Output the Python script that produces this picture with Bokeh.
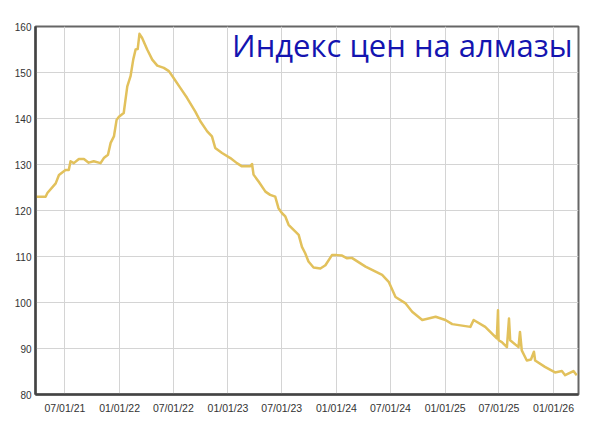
import pandas as pd
from bokeh.plotting import figure
from bokeh.models import FixedTicker, Range1d, Label, ColumnDataSource
from bokeh.embed import file_html
from bokeh.resources import INLINE

title_text = "Индекс цен на алмазы"

dates = [
    "2021-03-24", "2021-04-27", "2021-05-03", "2021-05-31", "2021-06-11", "2021-07-03",
    "2021-07-14", "2021-07-20", "2021-07-31", "2021-08-17", "2021-09-03", "2021-09-19",
    "2021-10-06", "2021-10-29", "2021-11-09", "2021-11-23", "2021-12-02", "2021-12-13",
    "2021-12-22", "2021-12-30", "2022-01-15", "2022-01-21", "2022-01-27", "2022-02-07",
    "2022-02-16", "2022-02-24", "2022-03-03", "2022-03-09", "2022-03-18", "2022-04-04",
    "2022-04-21", "2022-05-08", "2022-05-30", "2022-06-16", "2022-07-02", "2022-07-25",
    "2022-08-16", "2022-09-13", "2022-09-30", "2022-10-23", "2022-11-08", "2022-11-19",
    "2022-12-12", "2023-01-09", "2023-01-31", "2023-02-17", "2023-03-17", "2023-03-23",
    "2023-03-28", "2023-04-14", "2023-05-07", "2023-05-23", "2023-06-09", "2023-06-20",
    "2023-07-02", "2023-07-13", "2023-07-24", "2023-08-10", "2023-08-27", "2023-09-07",
    "2023-09-18", "2023-09-29", "2023-10-16", "2023-11-08", "2023-11-25", "2023-12-17",
    "2024-01-03", "2024-01-20", "2024-02-06", "2024-02-22", "2024-04-08", "2024-06-03",
    "2024-06-25", "2024-07-18", "2024-08-21", "2024-09-12", "2024-10-16", "2024-11-30",
    "2025-01-02", "2025-01-25", "2025-03-27", "2025-04-07", "2025-05-16", "2025-06-24",
    "2025-06-28", "2025-06-30", "2025-07-11", "2025-07-28", "2025-08-04", "2025-08-08",
    "2025-09-05", "2025-09-10", "2025-09-16", "2025-10-03", "2025-10-17", "2025-10-27",
    "2025-10-31", "2025-12-03", "2026-01-06", "2026-01-29", "2026-02-09", "2026-03-09",
    "2026-03-20",
]
values = [
    123.0, 123.0, 123.8, 125.9, 127.7, 128.8,
    128.8, 130.7, 130.3, 131.2, 131.2, 130.4,
    130.7, 130.3, 131.4, 132.1, 134.7, 136.1,
    139.7, 140.4, 141.2, 144.1, 147.0, 149.2,
    152.8, 155.0, 155.1, 158.4, 157.5, 155.0,
    152.8, 151.5, 151.0, 150.3, 148.8, 146.6,
    144.5, 141.5, 139.4, 137.2, 136.1, 133.6,
    132.5, 131.4, 130.3, 129.6, 129.6, 130.1,
    127.8, 126.3, 124.1, 123.4, 123.0, 120.5,
    119.4, 118.7, 116.9, 115.8, 114.7, 112.1,
    110.7, 108.9, 107.6, 107.4, 108.1, 110.3,
    110.3, 110.2, 109.6, 109.7, 107.8, 106.0,
    104.5, 101.2, 99.8, 98.0, 96.2, 96.9,
    96.2, 95.3, 94.7, 96.2, 94.7, 92.2,
    98.3, 91.8, 91.4, 90.3, 96.5, 91.8,
    90.3, 93.6, 89.6, 87.4, 87.6, 89.3,
    87.4, 86.0, 84.8, 85.1, 84.2, 85.1,
    84.2,
]

x_start, x_end = "2021-03-24", "2026-03-26"
y_start, y_end = 80, 160
y_ticks = [80, 90, 100, 110, 120, 130, 140, 150, 160]
tick_dates = ["2021-07-01", "2022-01-01", "2022-07-01", "2023-01-01", "2023-07-01",
              "2024-01-01", "2024-07-01", "2025-01-01", "2025-07-01", "2026-01-01"]
tick_labels = ["07/01/21", "01/01/22", "07/01/22", "01/01/23", "07/01/23",
               "01/01/24", "07/01/24", "01/01/25", "07/01/25", "01/01/26"]


def ms(s):
    return pd.Timestamp(s).value / 1e6


src = ColumnDataSource(data=dict(date=pd.to_datetime(dates), value=values))

p = figure(width=602, height=421, x_axis_type="datetime",
           output_backend="svg", toolbar_location=None,
           x_range=Range1d(ms(x_start), ms(x_end)),
           y_range=Range1d(y_start, y_end),
           min_border_left=35, min_border_right=24,
           min_border_top=26, min_border_bottom=27)

p.background_fill_color = "white"
p.border_fill_color = "white"
p.outline_line_color = "#666666"
p.outline_line_width = 2

tick_ms = [ms(d) for d in tick_dates]
p.xaxis.ticker = FixedTicker(ticks=tick_ms)
p.xaxis.major_label_overrides = {t: lab for t, lab in zip(tick_ms, tick_labels)}
p.yaxis.ticker = FixedTicker(ticks=y_ticks)

for ax in (p.xaxis[0], p.yaxis[0]):
    ax.axis_line_color = "#444444"
    ax.axis_line_width = 2.5
    ax.major_tick_in = 0
    ax.major_tick_out = 0
    ax.minor_tick_in = 0
    ax.minor_tick_out = 0
    ax.major_label_text_color = "#333333"
    ax.major_label_text_font = "Liberation Sans"

p.xaxis.major_label_text_font_size = "10.5px"
p.yaxis.major_label_text_font_size = "10px"
p.xaxis.major_label_standoff = 7
p.yaxis.major_label_standoff = 4

p.xgrid.grid_line_color = "#d4d4d4"
p.ygrid.grid_line_color = "#d4d4d4"
p.xgrid.grid_line_width = 1
p.ygrid.grid_line_width = 1

p.line(x="date", y="value", source=src, line_color="#e2c15c", line_width=2.5,
       line_join="round")

title = Label(x=ms(x_end), y=y_end, x_offset=-6, y_offset=3,
              text=title_text, text_align="right", text_baseline="top",
              text_font="Open Sans", text_font_size="31px", text_color="#1414b0")
p.add_layout(title)

open("out.html", "w").write(file_html(p, INLINE))
